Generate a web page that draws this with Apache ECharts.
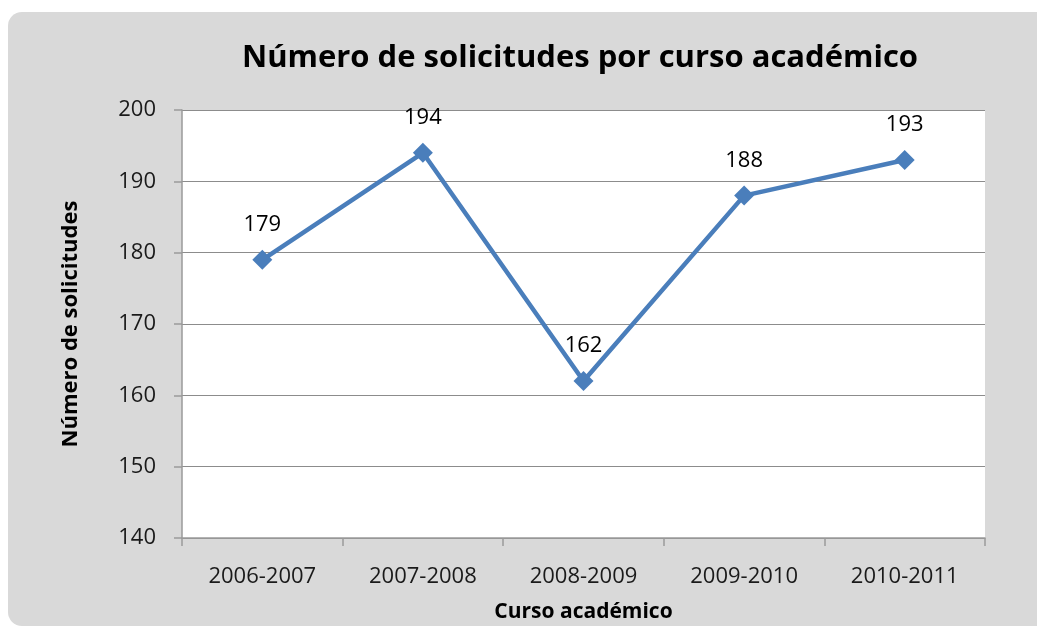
<!DOCTYPE html>
<html>
<head>
<meta charset="utf-8">
<script src="https://cdn.jsdelivr.net/npm/echarts@6/dist/echarts.min.js"></script>
<style>
    html, body { margin: 0; padding: 0; background: #ffffff; overflow: hidden; }
    #panel {
        position: absolute; left: 8px; top: 12px; width: 1045px; height: 614px;
        background: #d9d9d9; border-radius: 14px;
    }
    #chart { position: absolute; left: 0; top: 0; width: 1037px; height: 627px; }
</style>
</head>
<body>
<div id="panel"></div>
<div id="chart"></div>
<script>
const titleText = 'Número de solicitudes por curso académico';
const cursos = ['2006-2007', '2007-2008', '2008-2009', '2009-2010', '2010-2011'];
const solicitudes = [179, 194, 162, 188, 193];
const yMin = 140;
const yMax = 200;
const yStep = 10;

const chart = echarts.init(document.getElementById('chart'));
const font = '"Open Sans", Lato, sans-serif';

const option = {
    backgroundColor: 'transparent',
    title: {
        text: titleText,
        left: 575,
        top: 38,
        textAlign: 'center',
        textStyle: { fontFamily: font, fontSize: 31, fontWeight: 'bold', color: '#000' }
    },
    grid: { left: 182, right: 52, top: 110, bottom: 89, outerBoundsMode: 'none', containLabel: false },
    xAxis: {
        type: 'category',
        data: cursos,
        boundaryGap: true,
        name: 'Curso académico',
        nameLocation: 'middle',
        nameGap: 64,
        nameTextStyle: { fontFamily: font, fontSize: 21, fontWeight: 'bold', color: '#000' },
        axisLine: { lineStyle: { color: '#9a9a9a', width: 1.5 } },
        axisTick: { show: true, length: 8, lineStyle: { color: '#9a9a9a', width: 1.5 } },
        axisLabel: { fontFamily: font, fontSize: 22, color: '#1a1a1a', margin: 28 }
    },
    yAxis: {
        type: 'value',
        min: yMin,
        max: yMax,
        interval: yStep,
        name: 'Número de solicitudes',
        nameLocation: 'middle',
        nameGap: 100,
        nameTextStyle: { fontFamily: font, fontSize: 22, fontWeight: 'bold', color: '#000' },
        axisLine: { show: true, lineStyle: { color: '#9a9a9a', width: 1.5 } },
        axisTick: { show: true, length: 8, lineStyle: { color: '#9a9a9a', width: 1.5 } },
        axisLabel: { fontFamily: font, fontSize: 22, color: '#1a1a1a', margin: 26 },
        splitLine: { lineStyle: { color: '#8c8c8c', width: 1.2 } }
    },
    graphic: [{
        type: 'rect',
        z: -1,
        shape: { x: 182, y: 110, width: 803, height: 428 },
        style: { fill: '#ffffff' }
    }],
    series: [{
        type: 'line',
        data: solicitudes,
        symbol: 'diamond',
        symbolSize: 20,
        lineStyle: { color: '#4a7ebb', width: 4.5 },
        itemStyle: { color: '#4a7ebb' },
        label: {
            show: true,
            position: 'top',
            distance: 14,
            fontFamily: font,
            fontSize: 22,
            color: '#000'
        }
    }]
};

chart.setOption(option);
</script>
</body>
</html>
